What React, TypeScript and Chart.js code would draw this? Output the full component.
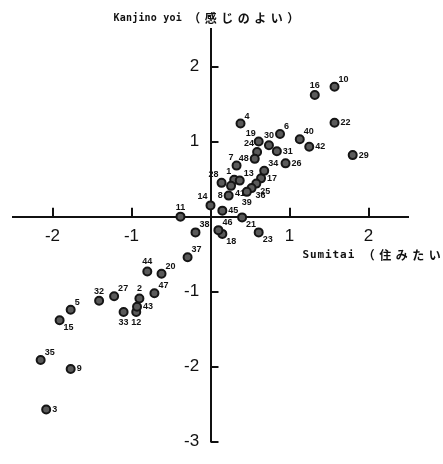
import React, { useEffect, useRef } from "react";
import { Chart, registerables } from "chart.js";

Chart.register(...registerables);

// Sample numbers 1..48
const ids: number[] = [
  1, 2, 3, 4, 5, 6, 7, 8, 9, 10, 11, 12, 13, 14, 15, 16, 17, 18, 19, 20, 21, 22, 23, 24,
  25, 26, 27, 28, 29, 30, 31, 32, 33, 34, 35, 36, 37, 38, 39, 40, 41, 42, 43, 44, 45, 46, 47, 48,
];
// Sumitai (x)
const sumitai: number[] = [
  0.30, -0.90, -2.08, 0.38, -1.77, 0.88, 0.33, 0.23, -1.77, 1.57, -0.38, -0.94, 0.37, 0.0, -1.91, 1.32,
  0.64, 0.15, 0.61, -0.62, 0.40, 1.57, 0.61, 0.59, 0.58, 0.95, -1.22, 0.14, 1.80, 0.74, 0.84, -1.41,
  -1.10, 0.68, -2.15, 0.52, -0.29, -0.19, 0.46, 1.13, 0.26, 1.25, -0.93, -0.80, 0.15, 0.10, -0.71, 0.56,
];
// Kanjino yoi (y)
const kanjinoYoi: number[] = [
  0.49, -1.09, -2.57, 1.24, -1.24, 1.10, 0.68, 0.28, -2.03, 1.73, 0.0, -1.27, 0.48, 0.15, -1.38, 1.62,
  0.51, -0.23, 1.0, -0.76, -0.01, 1.25, -0.21, 0.86, 0.44, 0.71, -1.06, 0.45, 0.82, 0.95, 0.87, -1.12,
  -1.27, 0.61, -1.91, 0.38, -0.54, -0.21, 0.33, 1.03, 0.41, 0.93, -1.20, -0.73, 0.08, -0.18, -1.02, 0.77,
];
// Label placement around each point (style only)
const labelSide: string[] = [
  "nw", "n", "e", "ne", "ne", "ne", "nw", "w", "e", "ne", "n", "s", "ne", "nw", "se", "n",
  "e", "se", "nw", "ne", "se", "e", "se", "nw", "se", "e", "ne", "nw", "e", "n", "e", "n",
  "s", "ne", "ne", "se", "ne", "ne", "s", "ne", "se", "e", "e", "n", "e", "ne", "ne", "w",
];
const xTicks: number[] = [-2, -1, 1, 2];
const yTicks: number[] = [-3, -2, -1, 1, 2];

const TICK_FONT = "Liberation Sans";

function drawParts(
  ctx: CanvasRenderingContext2D,
  parts: { text: string; font: string; spacing: number }[],
  x: number,
  y: number
) {
  let cx = x;
  for (const p of parts) {
    ctx.font = p.font;
    (ctx as any).letterSpacing = p.spacing + "px";
    ctx.fillText(p.text, cx, y);
    cx += ctx.measureText(p.text).width;
  }
  (ctx as any).letterSpacing = "0px";
}

const tickMarksPlugin = {
  id: "tickMarks",
  afterDraw(chart: any) {
    const ctx: CanvasRenderingContext2D = chart.ctx;
    const xs = chart.scales.x;
    const ys = chart.scales.y;
    const x0 = xs.getPixelForValue(0);
    const y0 = ys.getPixelForValue(0);
    ctx.save();
    ctx.strokeStyle = "#111";
    ctx.lineWidth = 2;
    ctx.beginPath();
    xTicks.forEach((v) => {
      const px = Math.round(xs.getPixelForValue(v));
      ctx.moveTo(px, y0);
      ctx.lineTo(px, y0 - 9);
    });
    yTicks.forEach((v) => {
      const py = Math.round(ys.getPixelForValue(v));
      ctx.moveTo(x0, py);
      ctx.lineTo(x0 + 8, py);
    });
    ctx.stroke();
    ctx.restore();
  },
};

const pointLabelsPlugin = {
  id: "pointLabels",
  afterDatasetsDraw(chart: any) {
    const ctx: CanvasRenderingContext2D = chart.ctx;
    const meta = chart.getDatasetMeta(0);
    ctx.save();
    ctx.fillStyle = "#111";
    ctx.font = "bold 9px 'Liberation Sans'";
    meta.data.forEach((el: any, i: number) => {
      const t = String(ids[i]);
      const side = labelSide[i];
      let x = el.x;
      let y = el.y;
      let align: CanvasTextAlign = "left";
      let base: CanvasTextBaseline = "middle";
      if (side === "ne") { x += 4; y -= 3; align = "left"; base = "bottom"; }
      else if (side === "e") { x += 6; align = "left"; base = "middle"; }
      else if (side === "n") { y -= 5; align = "center"; base = "bottom"; }
      else if (side === "nw") { x -= 3; y -= 4; align = "right"; base = "bottom"; }
      else if (side === "w") { x -= 6; align = "right"; base = "middle"; }
      else if (side === "se") { x += 4; y += 3; align = "left"; base = "top"; }
      else if (side === "s") { y += 6; align = "center"; base = "top"; }
      ctx.textAlign = align;
      ctx.textBaseline = base;
      ctx.fillText(t, x, y);
    });
    ctx.restore();
  },
};

const axisTitlesPlugin = {
  id: "axisTitles",
  afterDraw(chart: any) {
    const ctx: CanvasRenderingContext2D = chart.ctx;
    const xs = chart.scales.x;
    const ys = chart.scales.y;
    const x0 = xs.getPixelForValue(0);
    const y0 = ys.getPixelForValue(0);
    ctx.save();
    ctx.fillStyle = "#111";
    ctx.textAlign = "left";
    ctx.textBaseline = "middle";
    drawParts(
      ctx,
      [
        { text: "Kanjino yoi ", font: "bold 10px 'DejaVu Sans Mono'", spacing: 0.2 },
        { text: "（感じのよい）", font: "bold 12px 'Noto Sans CJK JP'", spacing: 4.5 },
      ],
      x0 - 97,
      18
    );
    drawParts(
      ctx,
      [
        { text: "Sumitai ", font: "bold 11px 'DejaVu Sans Mono'", spacing: 0.9 },
        { text: "（住みたい）", font: "bold 12px 'Noto Sans CJK JP'", spacing: 4.5 },
      ],
      x0 + 92,
      y0 + 39
    );
    ctx.restore();
  },
};

export default function App() {
  const ref = useRef<HTMLCanvasElement | null>(null);

  useEffect(() => {
    if (!ref.current) return;
    const points = sumitai.map((x, i) => ({ x, y: kanjinoYoi[i] }));
    const chart = new Chart(ref.current, {
      type: "scatter",
      data: {
        datasets: [
          {
            data: points,
            pointRadius: 4,
            pointBackgroundColor: "#5a5a5a",
            pointBorderColor: "#151515",
            pointBorderWidth: 2,
            pointHoverRadius: 4,
          },
        ],
      },
      options: {
        animation: false,
        responsive: false,
        devicePixelRatio: 1,
        events: [],
        layout: { padding: { left: 13, right: 35, top: 29, bottom: 9 } },
        plugins: {
          legend: { display: false },
          tooltip: { enabled: false },
          title: { display: false },
        },
        scales: {
          x: {
            type: "linear",
            min: -2.5,
            max: 2.5,
            position: { y: 0 } as any,
            grid: { display: false, drawTicks: false },
            border: { display: true, color: "#111", width: 2 },
            afterBuildTicks: (scale: any) => {
              scale.ticks = xTicks.map((v) => ({ value: v }));
            },
            ticks: {
              padding: 9,
              color: "#111",
              font: { family: TICK_FONT, size: 17 },
              maxRotation: 0,
              autoSkip: false,
              callback: (v: any) => String(v),
            },
          },
          y: {
            type: "linear",
            min: -3,
            max: 2.5,
            position: { x: 0 } as any,
            grid: { display: false, drawTicks: false },
            border: { display: true, color: "#111", width: 2 },
            afterBuildTicks: (scale: any) => {
              scale.ticks = yTicks.map((v) => ({ value: v }));
            },
            ticks: {
              padding: 12,
              color: "#111",
              font: { family: TICK_FONT, size: 17 },
              autoSkip: false,
              // trailing spaces keep the labels clear of the axis line
              callback: (v: any) => String(v) + "\u2002\u2006",
            },
          },
        },
      },
      plugins: [tickMarksPlugin, pointLabelsPlugin, axisTitlesPlugin],
    });
    return () => chart.destroy();
  }, []);

  return (
    <div style={{ position: "fixed", left: 0, top: 0, width: 443, height: 464, background: "#fff" }}>
      <canvas ref={ref} width={443} height={464} style={{ display: "block" }} />
    </div>
  );
}
